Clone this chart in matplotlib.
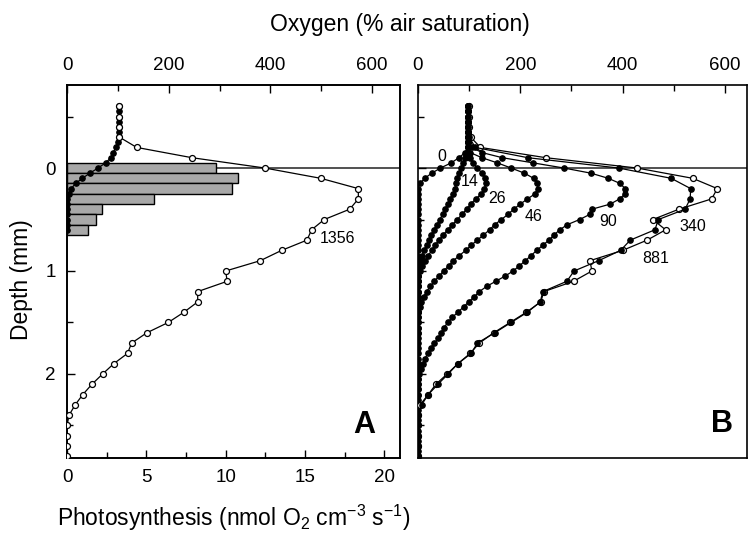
import matplotlib
matplotlib.use("Agg")
import matplotlib.pyplot as plt
from matplotlib.ticker import MultipleLocator, NullFormatter

plt.rcParams['font.family'] = ['Liberation Sans', 'DejaVu Sans']
plt.rcParams['mathtext.fontset'] = 'custom'
plt.rcParams['mathtext.rm'] = 'Liberation Sans'
plt.rcParams['mathtext.it'] = 'Liberation Sans:italic'

# depth grids (mm)
depth_10 = [-0.6, -0.5, -0.4, -0.3, -0.2, -0.1,
            0.0, 0.1, 0.2, 0.3, 0.4, 0.5, 0.6, 0.7, 0.8, 0.9,
            1.0, 1.1, 1.2, 1.3, 1.4, 1.5, 1.6, 1.7, 1.8, 1.9,
            2.0, 2.1, 2.2, 2.3, 2.4, 2.5, 2.6, 2.7, 2.8]
depth_05 = [-0.6, -0.55, -0.5, -0.45, -0.4, -0.35, -0.3, -0.25, -0.2, -0.15, -0.1, -0.05,
            0.0, 0.05, 0.1, 0.15, 0.2, 0.25, 0.3, 0.35, 0.4, 0.45, 0.5, 0.55,
            0.6, 0.65, 0.7, 0.75, 0.8, 0.85, 0.9, 0.95, 1.0, 1.05, 1.1, 1.15,
            1.2, 1.25, 1.3, 1.35, 1.4, 1.45, 1.5, 1.55, 1.6, 1.65, 1.7, 1.75,
            1.8, 1.85, 1.9, 1.95, 2.0, 2.05, 2.1, 2.15, 2.2, 2.25, 2.3, 2.35,
            2.4, 2.45, 2.5, 2.55, 2.6, 2.65, 2.7, 2.75, 2.8]

# panel A
bar_depth = [0.0, 0.1, 0.2, 0.3, 0.4, 0.5, 0.6]
photosynthesis = [9.4, 10.8, 10.4, 5.5, 2.2, 1.8, 1.3]
o2_dark_a = [103, 103, 103, 103, 103, 103, 103, 101, 96, 91, 86, 76,
             61, 45, 30, 17, 8, 3, 0, 0, 0, 0, 0, 0,
             0]
o2_1356 = [103, 103, 103, 103, 137, 246,
           389, 499, 573, 573, 556, 506, 481, 472, 422, 380,
           312, 315, 257, 257, 230, 199, 157, 127, 119, 92,
           70, 49, 31, 16, 4, 0, 0, 0, 0]

# panel B (light intensities)
o2_b_0 = [98, 98, 98, 98, 98, 98, 98, 98, 97, 92, 80, 65,
          44, 27, 13, 4, 0, 0, 0, 0, 0, 0, 0, 0,
          0, 0, 0, 0, 0, 0, 0, 0, 0, 0, 0, 0,
          0, 0, 0, 0, 0, 0, 0, 0, 0, 0, 0, 0,
          0, 0, 0, 0, 0, 0, 0, 0, 0, 0, 0, 0,
          0, 0, 0, 0, 0, 0, 0, 0, 0]
o2_b_14 = [98, 98, 98, 98, 98, 98, 98, 98, 98, 96, 92, 88,
           84, 80, 77, 74, 72, 68, 63, 58, 53, 48, 43, 37,
           31, 26, 21, 17, 12, 8, 5, 3, 1, 0, 0, 0,
           0, 0, 0, 0, 0]
o2_b_26 = [98, 98, 98, 98, 98, 98, 98, 98, 98, 100, 102, 107,
           116, 125, 131, 133, 130, 124, 113, 103, 95, 86, 77, 67,
           58, 49, 41, 33, 27, 20, 14, 8, 4, 1, 0, 0,
           0, 0, 0, 0, 0]
o2_b_46 = [98, 98, 98, 98, 98, 98, 98, 98, 98, 102, 125, 155,
           182, 208, 226, 233, 234, 229, 214, 200, 187, 176, 163, 150,
           140, 128, 116, 104, 93, 81, 69, 60, 50, 41, 32, 24,
           17, 11, 6, 3, 1, 0, 0, 0, 0]
o2_b_90 = [98, 98, 98, 98, 98, 98, 98, 98, 105, 125, 165, 225,
           285, 338, 372, 395, 405, 405, 394, 376, 340, 336, 316, 292,
           277, 266, 256, 244, 232, 221, 210, 198, 186, 170, 152, 134,
           120, 110, 99, 89, 78, 67, 58, 51, 45, 40, 32, 25,
           19, 14, 10, 5, 2, 0, 0, 0, 0]
o2_b_340 = [98, 98, 98, 100, 112, 215,
            392, 495, 533, 532, 522, 470, 463, 415, 396, 353,
            305, 291, 244, 239, 214, 182, 150, 116, 104, 78,
            59, 39, 20, 7, 0, 0, 0, 0, 0]
o2_b_881 = [100, 100, 100, 103, 122, 250,
            428, 537, 585, 574, 510, 459, 484, 448, 400, 336,
            340, 304, 246, 240, 212, 180, 148, 120, 102, 78,
            57, 35, 20, 4, 0, 0, 0, 0, 0]

filled = dict(marker='o', ms=3.8, color='black', lw=0.9, mec='black')
opened = dict(marker='o', ms=4.3, color='black', lw=0.9, mfc='white', mec='black', mew=0.9)

fig = plt.figure(figsize=(7.48, 5.35), dpi=100)
ax = fig.add_axes([0.0896, 0.1439, 0.4452, 0.6972])
ax_b = fig.add_axes([0.5588, 0.1439, 0.4398, 0.6972])

ylim = (2.816, -0.806)

# ---- panel A ----
ax.axhline(0, color='#333333', lw=1.2, zorder=0.5)
ax.barh(bar_depth, photosynthesis, height=0.1, color='#a8a8a8',
        edgecolor='black', linewidth=1.0, zorder=2)
ax.set_xlim(0, 21.0)
ax.set_ylim(*ylim)
ax.xaxis.set_major_locator(MultipleLocator(5))
ax.xaxis.set_minor_locator(MultipleLocator(2.5))
ax.yaxis.set_major_locator(MultipleLocator(1))
ax.yaxis.set_minor_locator(MultipleLocator(0.5))
ax.tick_params(axis='both', which='both', direction='in', top=False, right=False, width=1.0)
ax.tick_params(which='major', length=6, labelsize=13.5)
ax.tick_params(which='minor', length=4)
ax.tick_params(axis='x', pad=8)
ax.tick_params(axis='y', pad=8)

ax_o = ax.twiny()
ax_o.plot(o2_dark_a, depth_05[:len(o2_dark_a)], zorder=3, **filled)
ax_o.plot(o2_1356, depth_10, zorder=4, **opened)
ax_o.set_xlim(0, 655)
ax_o.set_ylim(*ylim)
ax_o.xaxis.set_major_locator(MultipleLocator(200))
ax_o.xaxis.set_minor_locator(MultipleLocator(100))
ax_o.tick_params(axis='x', which='both', direction='in', width=1.0, pad=8)
ax_o.tick_params(which='major', length=6, labelsize=13.5)
ax_o.tick_params(which='minor', length=4)
ax_o.text(532, 0.68, "1356", fontsize=11.5, ha='center', va='center')
ax_o.text(0.892, 0.088, "A", transform=ax_o.transAxes, fontsize=22,
          fontweight='bold', ha='center', va='center')

# ---- panel B ----
ax_b.axhline(0, color='#333333', lw=1.2, zorder=0.5)
for vals in [o2_b_0, o2_b_14, o2_b_26, o2_b_46, o2_b_90]:
    ax_b.plot(vals, depth_05[:len(vals)], zorder=3, **filled)
ax_b.plot(o2_b_881, depth_10, zorder=4, **opened)
ax_b.plot(o2_b_340, depth_10, zorder=5, **filled)
ax_b.set_xlim(0, 643)
ax_b.set_ylim(*ylim)
ax_b.xaxis.tick_top()
ax_b.xaxis.set_major_locator(MultipleLocator(200))
ax_b.xaxis.set_minor_locator(MultipleLocator(100))
ax_b.yaxis.set_major_locator(MultipleLocator(1))
ax_b.yaxis.set_minor_locator(MultipleLocator(0.5))
ax_b.yaxis.set_major_formatter(NullFormatter())
ax_b.tick_params(axis='both', which='both', direction='in', width=1.0,
                 bottom=False, right=False)
ax_b.tick_params(which='major', length=6, labelsize=13.5)
ax_b.tick_params(which='minor', length=4)
ax_b.tick_params(axis='x', pad=8)

light_labels = ["0", "14", "26", "46", "90", "340", "881"]
label_pos = [(46, -0.11), (102, 0.13), (154, 0.30), (225, 0.47),
             (372, 0.52), (538, 0.57), (465, 0.88)]
for lab, (lx, ly) in zip(light_labels, label_pos):
    ax_b.text(lx, ly, lab, fontsize=11.5, ha='center', va='center', zorder=6)
ax_b.text(0.924, 0.09, "B", transform=ax_b.transAxes, fontsize=22,
          fontweight='bold', ha='center', va='center')

for a in [ax, ax_o, ax_b]:
    for s in a.spines.values():
        s.set_linewidth(1.2)

fig.text(0.535, 0.955, "Oxygen (% air saturation)", fontsize=16.5, ha='center', va='center')
fig.text(0.312, 0.032, "Photosynthesis (nmol O$_2$ cm$^{-3}$ s$^{-1}$)",
         fontsize=16.5, ha='center', va='center')
fig.text(0.029, 0.477, "Depth (mm)", fontsize=16.5, rotation=90, ha='center', va='center')

fig.savefig("out.png", dpi=100)
